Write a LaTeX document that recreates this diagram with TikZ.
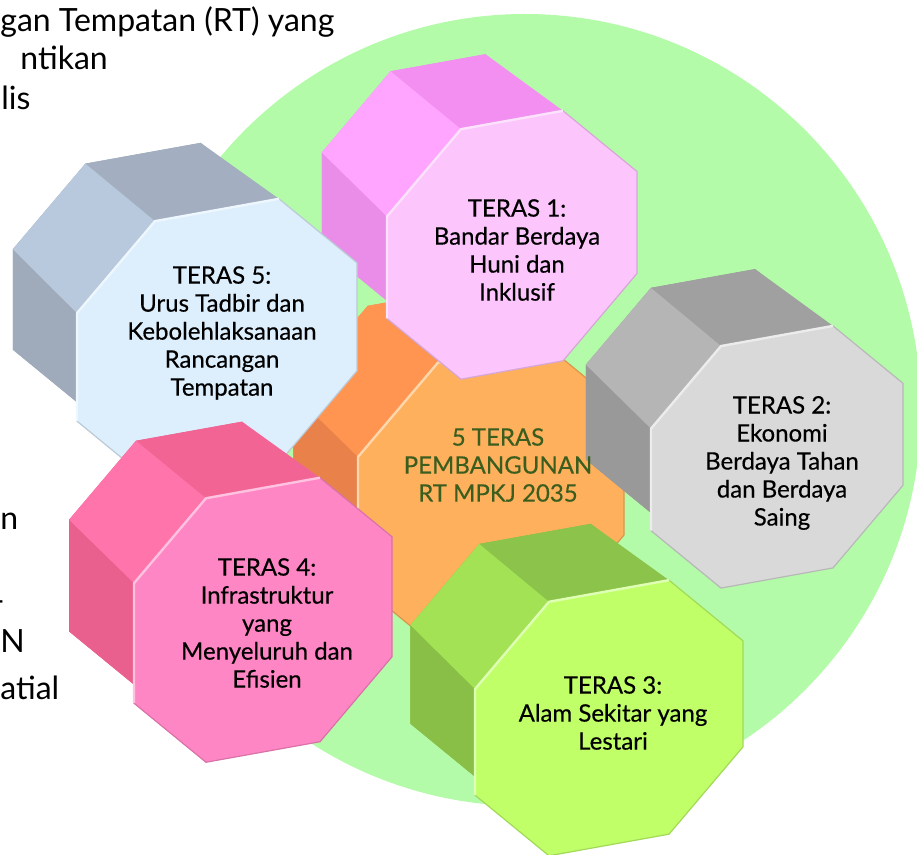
\documentclass[tikz,border=0pt]{standalone}
\usepackage{fontspec}
\setmainfont{Lato}
\newfontfamily\tebal{Lato}[FakeBold=0.4]
\usepackage{tikz}

\definecolor{circ}{HTML}{B4FBA9}
\definecolor{pusat}{HTML}{3B5E1F}
% orange centre
\definecolor{cfront}{HTML}{FFB05C}\definecolor{ctop}{HTML}{FF9551}
\definecolor{cdiag}{HTML}{FF9551}\definecolor{cleft}{HTML}{E8824A}
% teras 1
\definecolor{pfront}{HTML}{FCC5FC}\definecolor{ptop}{HTML}{F28FF0}
\definecolor{pdiag}{HTML}{FFA4FF}\definecolor{pleft}{HTML}{E98DE9}
% teras 2
\definecolor{gfront}{HTML}{D9D9D9}\definecolor{gtop}{HTML}{A0A0A0}
\definecolor{gdiag}{HTML}{B5B5B5}\definecolor{gleft}{HTML}{999999}
% teras 3
\definecolor{lfront}{HTML}{C0FF68}\definecolor{ltop}{HTML}{8BC34B}
\definecolor{ldiag}{HTML}{A2E254}\definecolor{lleft}{HTML}{89BE47}
% teras 4
\definecolor{rfront}{HTML}{FF86C4}\definecolor{rtop}{HTML}{F26493}
\definecolor{rdiag}{HTML}{FF74AA}\definecolor{rleft}{HTML}{E95F8D}
% teras 5
\definecolor{bfront}{HTML}{DDEEFC}\definecolor{btop}{HTML}{A3AFC0}
\definecolor{bdiag}{HTML}{B8C8DD}\definecolor{bleft}{HTML}{9FAABA}

% the 8 corners of one face, slanted a little
\newcommand\octcorners[4]{%
  \coordinate (#11) at ({-#2+#4},{-#3+0.18*(#2-#4)});
  \coordinate (#12) at ({#2-#4},{-#3-0.18*(#2-#4)});
  \coordinate (#13) at ({#2},{-#3+#4-0.18*#2});
  \coordinate (#14) at ({#2},{#3-#4-0.18*#2});
  \coordinate (#15) at ({#2-#4},{#3-0.18*(#2-#4)});
  \coordinate (#16) at ({-#2+#4},{#3+0.18*(#2-#4)});
  \coordinate (#17) at ({-#2},{#3-#4+0.18*#2});
  \coordinate (#18) at ({-#2},{-#3+#4+0.18*#2});
}
% #1 colour prefix, #2 centre, #3 half width, #4 half height, #5 corner cut
\newcommand\prism[5]{%
  \begin{scope}[shift={#2}]
    \octcorners{#1f}{#3}{#4}{#5}
  \end{scope}
  \begin{scope}[shift={#2},shift={(-74,-66)},scale=0.93]
    \octcorners{#1b}{#3}{#4}{#5}
  \end{scope}
  \fill[#1left] (#1b1)--(#1b2)--(#1b3)--(#1b4)--(#1b5)--(#1b6)--(#1b7)--(#1b8)--cycle;
  \fill[#1left] (#1f6)--(#1f7)--(#1f8)--(#1b8)--(#1b7)--(#1b6)--cycle;
  \fill[#1top] (#1f1)--(#1f2)--(#1b2)--(#1b1)--cycle;
  \fill[#1diag] (#1f8)--(#1f1)--(#1b1)--(#1b8)--cycle;
  \filldraw[fill=#1front,draw=#1front!85!black,line width=0.6pt]
    (#1f1)--(#1f2)--(#1f3)--(#1f4)--(#1f5)--(#1f6)--(#1f7)--(#1f8)--cycle;
  \draw[#1front!50!white,line width=1.2pt] (#1f7)--(#1f8)--(#1f1)--(#1f2);
}

\tikzset{
  lbl/.style={align=center,inner sep=0pt,font=\tebal\fontsize{12}{14}\selectfont},
  side/.style={inner sep=0pt,font=\fontsize{16}{19}\selectfont}
}

\begin{document}
\begin{tikzpicture}[x=0.5pt,y=-0.5pt]
  \useasboundingbox (0,0) rectangle (917,855);
  \clip (0,0) rectangle (917,855);

  \fill[circ] (525,410) circle (396);

  \prism{c}{(491,496)}{133}{143}{80}
  \prism{p}{(512,245)}{125}{125}{74}
  \prism{g}{(777,457)}{126}{121}{70}
  \prism{b}{(217,342)}{140}{132}{78}
  \prism{r}{(263,620)}{129}{132}{72}
  \prism{l}{(609,718)}{134}{127}{74}

  \node[lbl,text=pusat] (pusat) at (498,465) {5 TERAS\\PEMBANGUNAN\\RT MPKJ 2035};
  \node[lbl] (teras1) at (517,250) {TERAS 1:\\Bandar Berdaya\\Huni dan\\Inklusif};
  \node[lbl] (teras2) at (782,463) {TERAS 2:\\Ekonomi\\Berdaya Tahan\\dan Berdaya\\Saing};
  \node[lbl] (teras3) at (613,713) {TERAS 3:\\Alam Sekitar yang\\Lestari};
  \node[lbl] (teras4) at (267,623) {TERAS 4:\\Infrastruktur\\yang\\Menyeluruh dan\\Efisien};
  \node[lbl] (teras5) at (222,333) {TERAS 5:\\Urus Tadbir dan\\Kebolehlaksanaan\\Rancangan\\Tempatan};

  % cut-off text on the left
  \node[side,anchor=base west] (baris1) at (0,32) {gan Tempatan (RT) yang};
  \node[side,anchor=base west] (baris2) at (20,70) {ntikan};
  \node[side,anchor=base west] (baris3) at (1,110) {lis};
  \node[side,anchor=base west] (baris4) at (0,530) {n};
  \node[side,anchor=base east] (baris5) at (5,612) {-};
  \node[side,anchor=base west] (baris6) at (0,653) {N};
  \node[side,anchor=base west] (baris7) at (0,700) {atial};
\end{tikzpicture}
\end{document}
